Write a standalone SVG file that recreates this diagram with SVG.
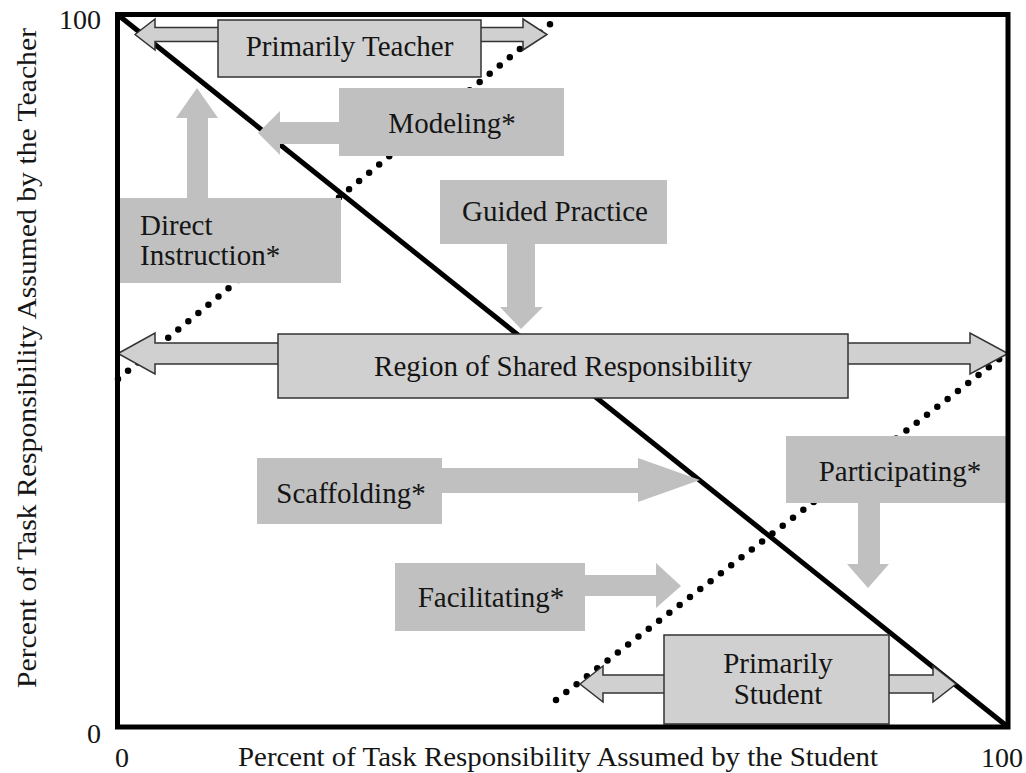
<svg xmlns="http://www.w3.org/2000/svg" width="1026" height="773" viewBox="0 0 1026 773">
<style>
.g{fill:#c0c0c0}
.o{fill:#d0d0d0;stroke:#333;stroke-width:1.5}
.t{font-family:"Liberation Serif","Times New Roman",serif;font-size:29px;fill:#151515}
.ax{font-family:"Liberation Serif","Times New Roman",serif;font-size:28px;fill:#151515}
.solid{stroke:#000;stroke-width:5;fill:none}
.dot{stroke:#000;stroke-width:6.5;stroke-linecap:round;stroke-dasharray:0 13;fill:none}
</style>
<rect width="1026" height="773" fill="#fff"/>
<g id="guides">
<line class="solid" x1="117.5" y1="14.5" x2="1008" y2="727"/>
<line class="dot" x1="118" y1="379" x2="560" y2="16"/>
<line class="dot" x1="556" y1="700" x2="1006" y2="354"/>
</g>
<g id="connectors">
<polygon class="o" points="135,34.5 155,19 155,27.5 523,27.5 523,19 547,34.5 523,50 523,41.5 155,41.5 155,50"/>
<polygon class="o" points="118,353.5 155,333 155,343 970,343 970,333 1008,353.5 970,374 970,364 155,364 155,374"/>
<polygon class="o" points="580,684 603,666 603,675 933,675 933,666 956,684 933,702 933,693 603,693 603,702"/>
<polygon class="g" points="340,122 280,122 280,111 258,133 280,155 280,144 340,144"/>
<polygon class="g" points="187,199 187,118 176,118 197,88 218,118 208,118 208,199"/>
<polygon class="g" points="507,243 507,307 500,307 521,329 543,307 535,307 535,243"/>
<polygon class="g" points="441,468 638,468 638,458 700,480 638,502 638,493 441,493"/>
<polygon class="g" points="584,575 656,575 656,563 681,586 656,608 656,596 584,596"/>
<polygon class="g" points="858,502 858,564 847,564 868,588 889,564 880,564 880,502"/>
</g>
<g id="primarily-teacher">
<rect class="o" x="218" y="20" width="263" height="57"/>
<text class="t" x="349.5" y="56" text-anchor="middle">Primarily Teacher</text>
</g>
<g id="modeling">
<rect class="g" x="339" y="88" width="225" height="68"/>
<text class="t" x="452" y="133" text-anchor="middle">Modeling*</text>
</g>
<g id="direct-instruction">
<rect class="g" x="119" y="198" width="222" height="85"/>
<text class="t" x="140" y="235">Direct</text>
<text class="t" x="140" y="265">Instruction*</text>
</g>
<g id="guided-practice">
<rect class="g" x="440" y="180" width="227" height="64"/>
<text class="t" x="555" y="221" text-anchor="middle">Guided Practice</text>
</g>
<g id="shared-responsibility">
<rect class="o" x="278" y="334" width="570" height="64"/>
<text class="t" x="563" y="376" text-anchor="middle">Region of Shared Responsibility</text>
</g>
<g id="scaffolding">
<rect class="g" x="257" y="458" width="185" height="66"/>
<text class="t" x="351" y="503" text-anchor="middle">Scaffolding*</text>
</g>
<g id="participating">
<rect class="g" x="786" y="436" width="221" height="67"/>
<text class="t" x="900" y="481" text-anchor="middle">Participating*</text>
</g>
<g id="facilitating">
<rect class="g" x="395" y="563" width="190" height="68"/>
<text class="t" x="491" y="607" text-anchor="middle">Facilitating*</text>
</g>
<g id="primarily-student">
<rect class="o" x="664" y="635" width="225" height="89"/>
<text class="t" x="778" y="673" text-anchor="middle" font-size="27">Primarily</text>
<text class="t" x="778" y="704" text-anchor="middle" font-size="27">Student</text>
</g>
<g id="axes">
<rect x="117.5" y="14.5" width="890.5" height="712.5" fill="none" stroke="#000" stroke-width="5"/>
<text class="ax" x="101" y="29" text-anchor="end">100</text>
<text class="ax" x="101" y="743" text-anchor="end">0</text>
<text class="ax" x="122" y="767" text-anchor="middle">0</text>
<text class="ax" x="1002" y="767" text-anchor="middle">100</text>
<text class="ax" x="238" y="766" textLength="640" lengthAdjust="spacingAndGlyphs">Percent of Task Responsibility Assumed by the Student</text>
<text class="ax" transform="translate(36,358) rotate(-90)" x="0" y="0" text-anchor="middle" font-size="29" textLength="660" lengthAdjust="spacingAndGlyphs">Percent of Task Responsibility Assumed by the Teacher</text>
</g>
</svg>
